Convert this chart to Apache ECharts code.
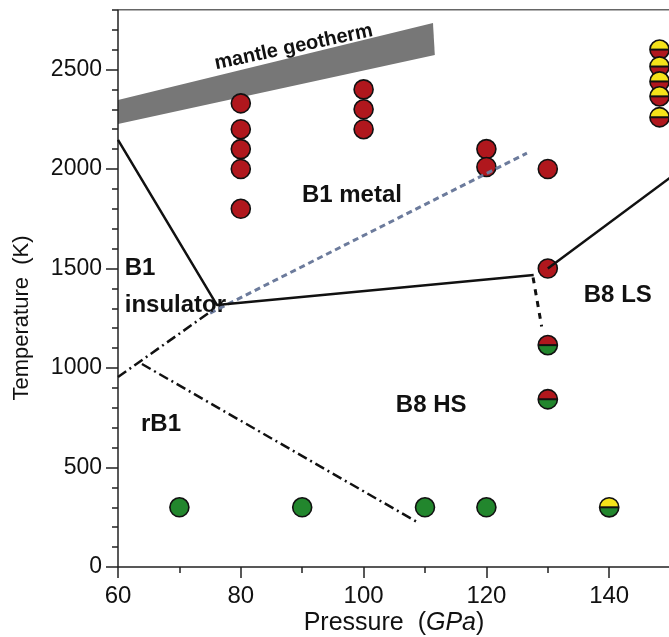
<!DOCTYPE html>
<html>
<head>
<meta charset="utf-8">
<script src="https://cdn.jsdelivr.net/npm/echarts@6/dist/echarts.min.js"></script>
<style>
  html, body { margin: 0; padding: 0; background: #fff; }
  #main { width: 669px; height: 637px; }
</style>
</head>
<body>
<div id="main"></div>
<script>
// pressure (GPa), temperature (K)
var metalPts = [[80, 2330], [80, 2200], [80, 2100], [80, 2000], [80, 1800],
                [100, 2400], [100, 2300], [100, 2200],
                [120, 2100], [120, 2010],
                [130, 2000], [130, 1500]];
var hsPts = [[70, 300], [90, 300], [110, 300], [120, 300]];
// half filled points: top colour / bottom colour
var metalOverHs = [[130, 1115], [130, 843]];
var lsOverHs = [[140, 300]];
var lsOverMetal = [[148.2, 2600], [148.2, 2515], [148.2, 2440], [148.2, 2365], [148.2, 2260]];

// phase boundaries
var boundarySolid = [[60, 2146], [76.1, 1317], [127.7, 1467]];
var boundaryLs = [[130, 1500], [150.5, 1970]];
var boundaryDotted = [[127.6, 1455], [129.0, 1208]];
var rb1Upper = [[60, 955], [75.4, 1290]];
var rb1Lower = [[63.9, 1020], [108.6, 228]];
var metalTrend = [[75.0, 1276], [126.6, 2080]];

// mantle geotherm band
var geothermTop = [[60, 2347], [111.3, 2734]];
var geothermBottom = [[60, 2226], [111.6, 2573]];

// plot frame
var frameTop = [[60, 2800], [160, 2800]];
var frameLeft = [[60, 0], [60, 2800]];

var regionNames = ['B1 metal', 'B8 LS', 'B8 HS', 'rB1'];
var regionPos = [[98.1, 1869], [141.4, 1367], [111.0, 813], [67.0, 715]];
var leftNames = ['B1', 'insulator'];
var leftPos = [[61.1, 1500], [61.1, 1315]];
var bandName = 'mantle geotherm';
var bandPos = [88.6, 2612];

var FONT = '"Liberation Sans", Arial, Helvetica, sans-serif';
var INK = '#111111';
var RED = '#b0171d', GREEN = '#22862d', YELLOW = '#f5e31a';

function halfRender(topColor, bottomColor) {
  return function (params, api) {
    var c = api.coord([api.value(0), api.value(1)]);
    var r = 9.6;
    return {
      type: 'group',
      children: [
        { type: 'circle', shape: { cx: c[0], cy: c[1], r: r }, style: { fill: bottomColor } },
        { type: 'sector', shape: { cx: c[0], cy: c[1], r0: 0, r: r, startAngle: Math.PI, endAngle: Math.PI * 2 },
          style: { fill: topColor } },
        { type: 'line', shape: { x1: c[0] - r, y1: c[1], x2: c[0] + r, y2: c[1] },
          style: { stroke: INK, lineWidth: 2 } },
        { type: 'circle', shape: { cx: c[0], cy: c[1], r: r }, style: { fill: 'none', stroke: INK, lineWidth: 1.6 } }
      ]
    };
  };
}

// text placed at data coords, align = 'center' or 'left'
function textRender(names, align, size, rot) {
  return function (params, api) {
    var c = api.coord([api.value(0), api.value(1)]);
    return {
      type: 'text', x: c[0], y: c[1], rotation: rot || 0,
      style: { text: names[params.dataIndex], fontSize: size, fontWeight: 'bold', fontFamily: FONT,
        fill: INK, align: align, verticalAlign: 'middle' }
    };
  };
}

function lineSeries(data, color, width, type) {
  return {
    type: 'line', data: data, showSymbol: false, symbol: 'none', silent: true,
    lineStyle: { color: color, width: width, type: type }
  };
}

var chart = echarts.init(document.getElementById('main'));

chart.setOption({
  animation: false,
  grid: { left: 118, right: -63, top: -30, bottom: 70, outerBoundsMode: 'none', containLabel: false },
  xAxis: {
    type: 'value', min: 60, max: 160, interval: 20,
    axisLine: { show: true, lineStyle: { color: '#222', width: 1.5 } },
    axisTick: { length: 11, lineStyle: { color: '#222', width: 1.5 } },
    minorTick: { show: true, splitNumber: 2, length: 6, lineStyle: { color: '#222', width: 1.5 } },
    axisLabel: { fontSize: 24, fontFamily: FONT, color: INK, margin: 17, formatter: '{value}' },
    splitLine: { show: false }
  },
  yAxis: {
    type: 'value', min: 0, max: 3000, interval: 500,
    axisLine: { show: false },
    axisTick: { length: 12, lineStyle: { color: '#222', width: 1.5 } },
    minorTick: { show: true, splitNumber: 5, length: 6, lineStyle: { color: '#222', width: 1.5 } },
    axisLabel: { fontSize: 23, fontFamily: FONT, color: INK, margin: 16,
      formatter: function (v) { return String(v); } },
    splitLine: { show: false }
  },
  graphic: [
    { type: 'text', x: 22, y: 318, rotation: Math.PI / 2,
      style: { text: 'Temperature  (K)', fontSize: 22, fontFamily: FONT, fill: INK, align: 'center', verticalAlign: 'middle' } },
    { type: 'text', x: 394, y: 623,
      style: { text: 'Pressure  ({i|GPa})', fontSize: 25, fontFamily: FONT, fill: INK, align: 'center', verticalAlign: 'middle',
        rich: { i: { fontStyle: 'italic', fontSize: 25, fontFamily: FONT, fill: INK } } } }
  ],
  series: [
    {
      type: 'custom', silent: true, data: [[60, 0]],
      renderItem: function (params, api) {
        var pts = geothermTop.map(function (p) { return api.coord(p); })
          .concat(geothermBottom.slice().reverse().map(function (p) { return api.coord(p); }));
        return { type: 'polygon', shape: { points: pts }, style: { fill: '#777777' } };
      }
    },
    lineSeries(frameTop, '#666', 1.5, 'solid'),
    lineSeries(frameLeft, '#222', 1.5, 'solid'),
    lineSeries(metalTrend, '#6c7b9c', 3, [6, 4]),
    lineSeries(boundarySolid, INK, 2.5, 'solid'),
    lineSeries(boundaryLs, INK, 2.5, 'solid'),
    lineSeries(boundaryDotted, INK, 3, [6, 6]),
    lineSeries(rb1Upper, INK, 2.5, [10, 4, 2, 4]),
    lineSeries(rb1Lower, INK, 2.5, [10, 4, 2, 4]),
    {
      type: 'scatter', data: metalPts, symbolSize: 19, silent: true,
      itemStyle: { color: RED, borderColor: INK, borderWidth: 1.6, opacity: 1 }
    },
    {
      type: 'scatter', data: hsPts, symbolSize: 19, silent: true,
      itemStyle: { color: GREEN, borderColor: INK, borderWidth: 1.6, opacity: 1 }
    },
    { type: 'custom', data: metalOverHs, renderItem: halfRender(RED, GREEN), silent: true, clip: false },
    { type: 'custom', data: lsOverHs, renderItem: halfRender(YELLOW, GREEN), silent: true, clip: false },
    { type: 'custom', data: lsOverMetal, renderItem: halfRender(YELLOW, RED), silent: true, clip: false },
    { type: 'custom', data: regionPos, renderItem: textRender(regionNames, 'center', 24), silent: true, clip: false },
    { type: 'custom', data: leftPos, renderItem: textRender(leftNames, 'left', 24), silent: true, clip: false },
    { type: 'custom', data: [bandPos], renderItem: textRender([bandName], 'center', 20, 12 * Math.PI / 180),
      silent: true, clip: false }
  ]
});
</script>
</body>
</html>
